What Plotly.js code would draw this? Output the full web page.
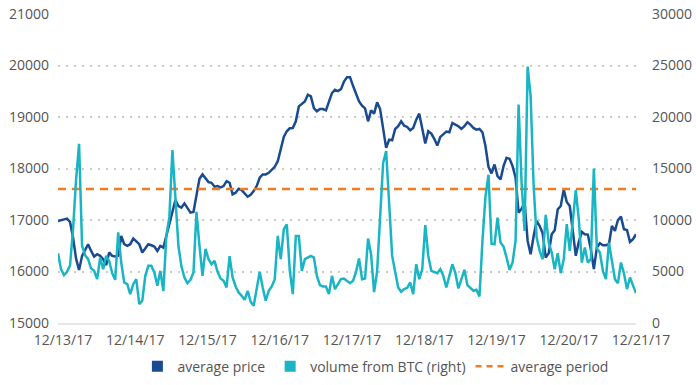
<!DOCTYPE html>
<html>
<head>
<meta charset="utf-8">
<script src="https://cdn.plot.ly/plotly-3.0.1.min.js"></script>
<style>
html,body{margin:0;padding:0;background:#ffffff;}
#chart{width:696px;height:385px;}
</style>
</head>
<body>
<div id="chart"></div>
<script>
// hourly observations starting 12/13/17 00:00
const startTime = Date.UTC(2017, 11, 13, 0, 0, 0);
const stepHours = 1;

const averagePrice = [
  16980, 17000, 17013, 17026, 16962, 16660, 16250, 16030, 16304, 16433,
  16530, 16400, 16290, 16336, 16304, 16240, 16124, 16370, 16304, 16290,
  16304, 16690, 16530, 16500, 16530, 16640, 16594, 16530, 16370, 16446,
  16530, 16510, 16485, 16400, 16498, 16465, 16690, 16917, 17143, 17388,
  17272, 17240, 17323, 17240, 17143, 17155, 17465, 17800, 17884,
  17820, 17736, 17723, 17646, 17659, 17633, 17659, 17755, 17723, 17497,
  17530, 17607, 17581, 17517, 17452, 17491, 17562, 17659, 17820, 17884,
  17884, 17916, 17968, 18033, 18142, 18381, 18613, 18723, 18781, 18787,
  18916, 19206, 19258, 19303, 19432, 19400, 19174, 19110, 19155, 19155,
  19129, 19303, 19465, 19530, 19503, 19542, 19690, 19774,
  19774, 19606, 19432, 19303, 19220, 19168, 18916, 19129, 19065, 19284,
  19155, 18723, 18400, 18561, 18549, 18768, 18820, 18916, 18832, 18807,
  18742, 18787, 18949, 19065, 18787, 18484, 18723, 18678, 18574, 18445,
  18613, 18658, 18716, 18703, 18884, 18852, 18820, 18768, 18820, 18897,
  18852, 18787, 18755, 18768, 18703, 18432, 18033, 17904,
  18078, 17852, 17788, 18046, 18207, 18188, 18046, 17820, 17143, 17220,
  17336, 16594, 16336, 16690, 16981, 16884, 16742, 16272, 16356, 16723,
  16801, 17207, 17272, 17594, 17349, 17272, 16820, 16304, 16575, 16768,
  16723, 16717, 16433, 16046, 16465, 16549, 16510, 16510, 16530, 16884,
  16788, 17000, 17065, 16820, 16807, 16575, 16627, 16723
];

const volumeFromBTC = [
  6773, 5224, 4644, 4966, 5600, 9096, 13900, 17400, 7500, 6580,
  6193, 5289, 5063, 4257, 6354, 5224, 6515, 6031, 4837, 4192,
  8800, 5870, 3934, 3773, 2805, 3773, 4257, 1837, 2160, 4580,
  5547, 5547, 4902, 3612, 5063, 3100, 8500, 10300, 16800, 12000,
  7500, 5500, 4418, 3870, 4193, 4902, 10800, 7500, 4580,
  7200, 6200, 5708, 6031, 4966, 4321, 4096, 3450, 6500, 4418,
  3547, 2966, 2644, 2257, 3128, 2064, 1676, 3225, 4966, 3450,
  2160, 3128, 3547, 4257, 8451, 6193, 9096, 9580, 5063, 2805,
  8451, 8451, 5063, 6193, 6354, 6515, 6354, 4580, 3676, 3547,
  3547, 2805, 4580, 3289, 3773, 4257, 4321, 4096,
  3870, 4096, 4966, 6257, 4257, 4321, 8200, 6677, 3000, 5000,
  9740, 15548, 16700, 11354, 6515, 4966, 3450, 3030, 3289, 3418,
  3934, 2805, 5708, 4257, 5224, 9500, 6515, 5063, 4966, 4837,
  5224, 4580, 3450, 4580, 5708, 4837, 3354, 4257, 5160, 3676,
  3354, 3128, 3225, 2580, 8000, 12300, 14400, 7700,
  7644, 10225, 7806, 7419, 6354, 5160, 5870, 8000, 21200, 13600,
  8935, 24900, 22000, 13300, 8290, 7000, 6193, 10500, 7806, 6838,
  5224, 6773, 4837, 6193, 9600, 7000, 9900, 12900, 10060, 5870,
  7322, 5870, 6193, 15000, 7225, 6838, 5063, 4257, 7806, 5870,
  4257, 3870, 5870, 4837, 3289, 4418, 3547, 2902
];

const averagePeriod = 17600;

const tickLabels = ['12/13/17', '12/14/17', '12/15/17', '12/16/17', '12/17/17',
                    '12/18/17', '12/19/17', '12/20/17', '12/21/17'];

const seriesNames = ['average price', 'volume from BTC (right)', 'average period'];
const seriesColors = ['#1a4a8f', '#19b5c4', '#f47c20'];

function fmt(ms) {
  const d = new Date(ms);
  const p = n => String(n).padStart(2, '0');
  return d.getUTCFullYear() + '-' + p(d.getUTCMonth() + 1) + '-' + p(d.getUTCDate()) +
         ' ' + p(d.getUTCHours()) + ':' + p(d.getUTCMinutes());
}
const hourMs = 3600 * 1000 * stepHours;
const times = averagePrice.map((_, i) => fmt(startTime + i * hourMs));
const tickVals = tickLabels.map((_, i) => fmt(startTime + i * 24 * 3600 * 1000));

const traces = [
  {
    x: times, y: averagePrice, type: 'scatter', mode: 'lines',
    line: {color: seriesColors[0], width: 2.5}, showlegend: false, yaxis: 'y'
  },
  {
    x: times, y: volumeFromBTC, type: 'scatter', mode: 'lines',
    line: {color: seriesColors[1], width: 2.5}, showlegend: false, yaxis: 'y2'
  },
  {
    x: [times[0], times[times.length - 1]], y: [averagePeriod, averagePeriod],
    type: 'scatter', mode: 'lines', name: seriesNames[2],
    line: {color: seriesColors[2], width: 2.5, dash: '8px,6px'}, showlegend: false, yaxis: 'y'
  },
  // legend entries
  {
    x: [null], y: [null], type: 'scatter', mode: 'markers', name: seriesNames[0],
    marker: {symbol: 'square', size: 11, color: seriesColors[0]}, yaxis: 'y'
  },
  {
    x: [null], y: [null], type: 'scatter', mode: 'markers', name: seriesNames[1],
    marker: {symbol: 'square', size: 11, color: seriesColors[1]}, yaxis: 'y'
  },
  {
    x: [null], y: [null], type: 'scatter', mode: 'lines', name: seriesNames[2],
    line: {color: seriesColors[2], width: 2.5, dash: '6px,5px'}, yaxis: 'y'
  }
];

const layout = {
  width: 696, height: 385,
  margin: {l: 58, r: 60, t: 14, b: 62, pad: 0, autoexpand: false},
  paper_bgcolor: '#ffffff', plot_bgcolor: '#ffffff',
  font: {family: '"Open Sans", sans-serif', size: 14, color: '#555555'},
  hovermode: false,
  showlegend: true,
  legend: {
    orientation: 'h', x: 0.55, xanchor: 'center',
    yref: 'container', y: 0.089, yanchor: 'top',
    font: {size: 14, color: '#555555'}, traceorder: 'normal', bgcolor: 'rgba(0,0,0,0)'
  },
  xaxis: {
    type: 'date', range: [times[0], times[times.length - 1]], automargin: false,
    tickmode: 'array', tickvals: tickVals, ticktext: tickLabels,
    showgrid: false, zeroline: false, showline: true, linecolor: '#e6e6e6', linewidth: 1.5,
    ticks: '', ticklabelshift: 5, ticklabelstandoff: 4, fixedrange: true
  },
  yaxis: {
    range: [15000, 21000], tick0: 15000, dtick: 1000, tickformat: 'd', automargin: false,
    showgrid: true, gridcolor: '#cccccc', gridwidth: 2, griddash: '2px,6px',
    zeroline: false, showline: false, ticks: '', ticklabelstandoff: 8, fixedrange: true
  },
  yaxis2: {
    overlaying: 'y', side: 'right', range: [0, 30000], tick0: 0, dtick: 5000, tickformat: 'd',
    automargin: false,
    showgrid: false, zeroline: false, showline: false, ticks: '', ticklabelstandoff: 15, fixedrange: true
  }
};

Plotly.newPlot('chart', traces, layout, {displayModeBar: false, staticPlot: true});
</script>
</body>
</html>
